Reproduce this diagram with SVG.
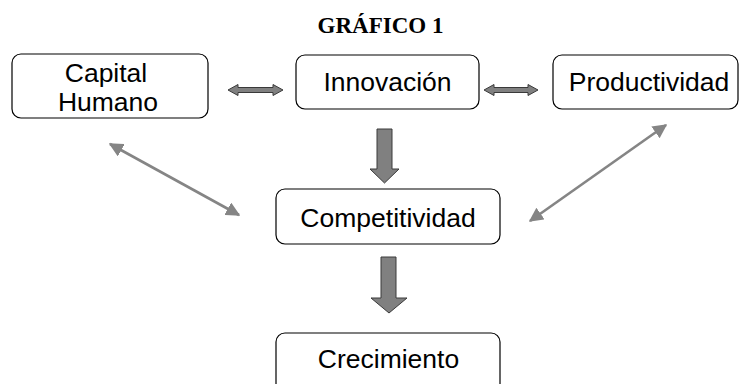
<svg xmlns="http://www.w3.org/2000/svg" width="741" height="384" viewBox="0 0 741 384">
<style>
.box{fill:#fff;stroke:#000;stroke-width:1.2}
.t{font-family:"Liberation Sans",Arial,sans-serif;font-size:26.5px;fill:#000;text-anchor:middle}
.title{font-family:"Liberation Serif","Times New Roman",serif;font-size:23px;font-weight:bold;text-anchor:middle}
.block{fill:#808080;stroke:#3a3a3a;stroke-width:1}
.diag{stroke:#858585;stroke-width:2.6;fill:none;marker-start:url(#ah);marker-end:url(#ah)}
</style>
<defs>
<marker id="ah" viewBox="0 0 10 10" refX="9" refY="5" markerWidth="5.5" markerHeight="5.5" orient="auto-start-reverse">
<path d="M0,0 L10,5 L0,10 z" fill="#858585"/>
</marker>
</defs>
<text class="title" x="380.5" y="33">GRÁFICO 1</text>
<g id="capital-humano">
<rect class="box" x="12" y="54" width="196" height="64" rx="9"/>
<text class="t" x="106" y="82">Capital</text>
<text class="t" x="108" y="111">Humano</text>
</g>
<g id="innovacion">
<rect class="box" x="296" y="55" width="183" height="54" rx="9"/>
<text class="t" x="387.5" y="91">Innovación</text>
</g>
<g id="productividad">
<rect class="box" x="553" y="55" width="185" height="54" rx="9"/>
<text class="t" x="649" y="91">Productividad</text>
</g>
<g id="competitividad">
<rect class="box" x="276" y="189" width="224" height="55" rx="9"/>
<text class="t" x="388" y="227">Competitividad</text>
</g>
<g id="crecimiento">
<rect class="box" x="276" y="333" width="224" height="60" rx="9"/>
<text class="t" x="388.5" y="368">Crecimiento</text>
</g>
<g id="connectors">
<path class="block" d="M228,90 L238,84.5 L238,87.5 L273,87.5 L273,84.5 L283,90 L273,95.5 L273,92.5 L238,92.5 L238,95.5 Z"/>
<path class="block" d="M484,90 L494,84.5 L494,87.5 L528,87.5 L528,84.5 L538,90 L528,95.5 L528,92.5 L494,92.5 L494,95.5 Z"/>
<path class="block" d="M377,129 L392,129 L392,169 L399,169 L384.5,183 L370,169 L377,169 Z"/>
<path class="block" d="M381,257 L396,257 L396,298 L407,298 L389,313 L371,298 L381,298 Z"/>
<line class="diag" x1="110" y1="144" x2="239" y2="215"/>
<line class="diag" x1="666" y1="125" x2="530" y2="221"/>
</g>
</svg>
